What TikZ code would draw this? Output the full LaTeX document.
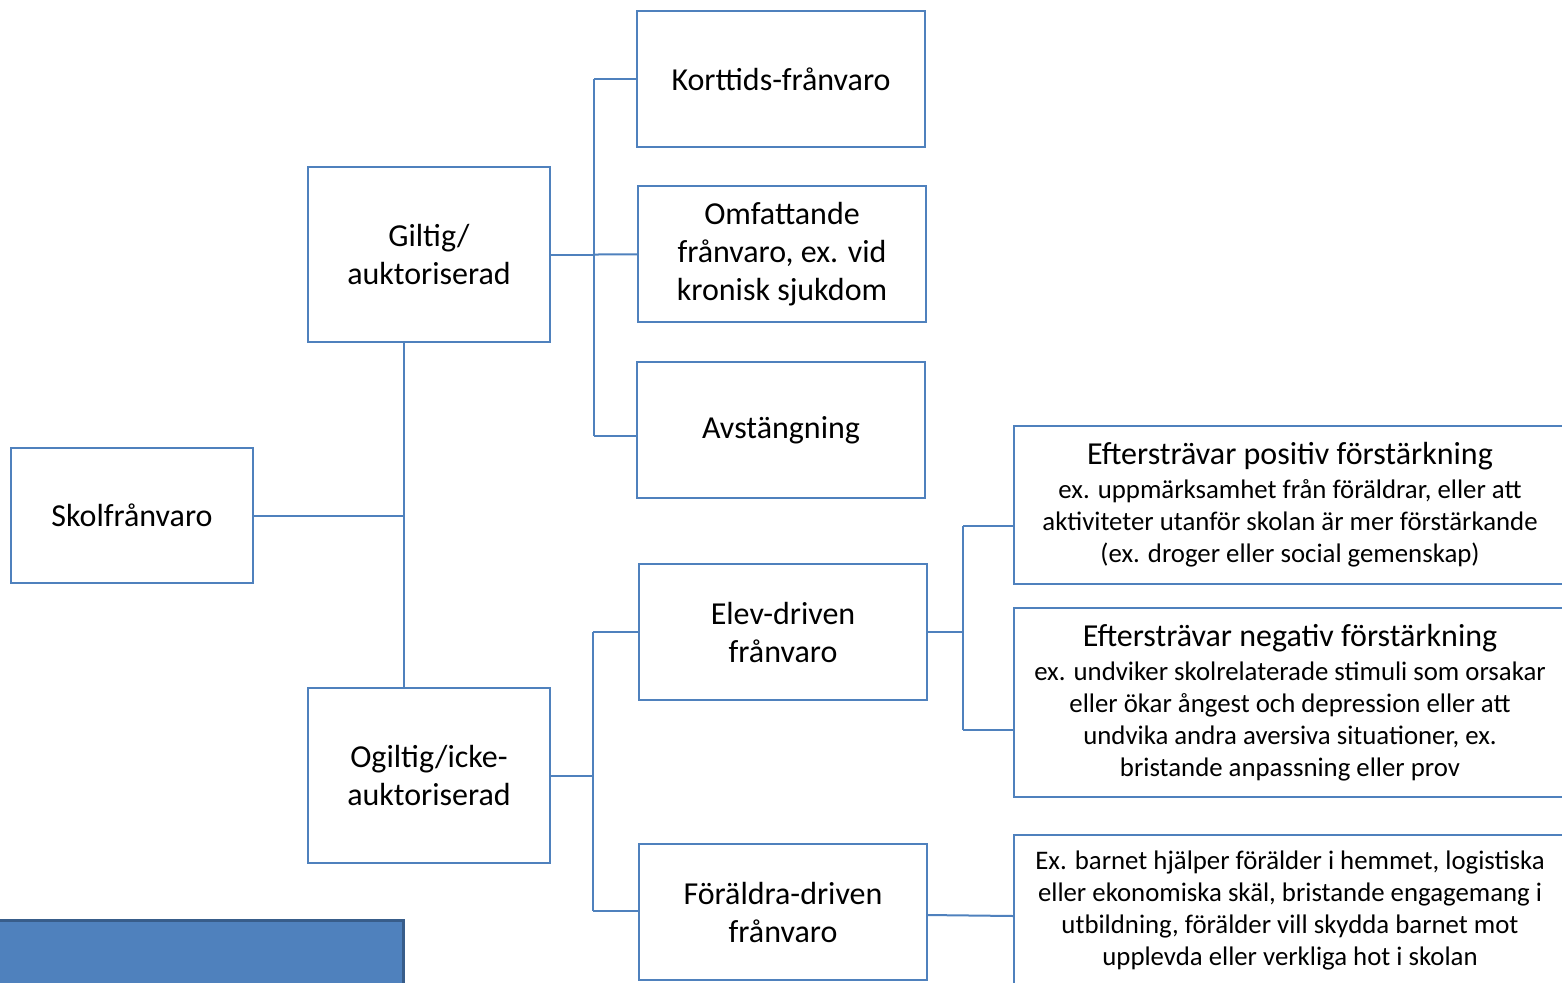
\documentclass[tikz,border=0pt]{standalone}
\usepackage{fontspec}
\setmainfont{Carlito}
\usetikzlibrary{positioning,calc}
\definecolor{boxblue}{RGB}{79,129,189}
\definecolor{bardark}{RGB}{56,93,138}
\newcommand{\boxfont}{\fontsize{16pt}{19pt}\selectfont}
\newcommand{\notefont}{\fontsize{13.4pt}{16pt}\selectfont}
\tikzstyle{box} = [rectangle, draw=boxblue, line width=1pt, inner sep=0pt, outer sep=0pt, align=center, font=\boxfont]
\tikzstyle{small} = [box, minimum width=121pt, minimum height=87.5pt]
\tikzstyle{wide} = [box, minimum width=144pt, minimum height=68pt]
\tikzstyle{note} = [box, minimum width=276pt, font=\notefont]
\tikzstyle{line} = [draw=boxblue, line width=1pt]

\begin{document}
\begin{tikzpicture}[x=0.5pt, y=-0.5pt]
		\clip (0,0) rectangle (1562,982);
		% Column 1
		\node[box, minimum width=121pt, minimum height=67.5pt](skol) at (132,515.5) {Skolfrånvaro};
		
		% Column 2
		\node[small](giltig) at (429,254.5) {Giltig/\\auktoriserad};
		\node[small](ogiltig) at (429,775.5) {Ogiltig/icke-\\auktoriserad};
		
		% Column 3
		\node[wide](kort) at (781,79) {Korttids-frånvaro};
		\node[wide, below of = kort, node distance = 87.5pt, xshift=0.5pt](omf) {Omfattande\\frånvaro, ex. vid\\kronisk sjukdom};
		\node[wide, below of = omf, node distance = 88pt, xshift=-0.5pt](avst) {Avstängning};
		\node[wide](elev) at (783,632) {Elev-driven\\frånvaro};
		\node[wide, below of = elev, node distance = 140pt](foral) {Föräldra-driven\\frånvaro};
		
		% Column 4
		\node[note, minimum height=79pt](pos) at (1290,505) {{\boxfont Eftersträvar positiv förstärkning}\\[1pt]ex. uppmärksamhet från föräldrar, eller att\\aktiviteter utanför skolan är mer förstärkande\\(ex. droger eller social gemenskap)};
		\node[note, minimum height=94.5pt](neg) at (1290,702.5) {{\boxfont Eftersträvar negativ förstärkning}\\[1pt]ex. undviker skolrelaterade stimuli som orsakar\\eller ökar ångest och depression eller att\\undvika andra aversiva situationer, ex.\\bristande anpassning eller prov};
		\node[note, minimum height=75pt](ftext) at (1290,910) {Ex. barnet hjälper förälder i hemmet, logistiska\\eller ekonomiska skäl, bristande engagemang i\\utbildning, förälder vill skydda barnet mot\\upplevda eller verkliga hot i skolan};
		
		% blue bar in the corner
		\node[fill=boxblue, draw=bardark, line width=1.5pt, minimum width=215pt, minimum height=50pt, anchor=north east](bar) at (405,919) {};
		
		% coordinates for the elbows
		\coordinate (trunk) at (404,515.5);
		\coordinate (gsplit) at (594,254.5);
		\coordinate (osplit) at (593,775.5);
		\coordinate (esplit) at (963,632);
		
		% Paths
		\path [line] (skol) -- (trunk);
		\path [line] (giltig.south -| trunk) -- (ogiltig.north -| trunk);
		\path [line] (giltig) -- (gsplit);
		\path [line] (gsplit |- kort) -- (gsplit |- 0,436);
		\path [line] (gsplit |- kort) -- (kort);
		\path [line] (gsplit) -- (omf);
		\path [line] (gsplit |- 0,436) -- (avst.west |- 0,436);
		\path [line] (ogiltig) -- (osplit);
		\path [line] (osplit |- elev) -- (osplit |- 0,911);
		\path [line] (osplit |- elev) -- (elev);
		\path [line] (osplit |- 0,911) -- (foral.west |- 0,911);
		\path [line] (elev) -- (esplit);
		\path [line] (esplit |- 0,526) -- (esplit |- 0,730);
		\path [line] (esplit |- 0,526) -- (pos.west |- 0,526);
		\path [line] (esplit |- 0,730) -- (neg.west |- 0,730);
		\path [line] (foral.east |- 0,915) -- (ftext.west |- 0,916);
		
	\end{tikzpicture}
\end{document}
